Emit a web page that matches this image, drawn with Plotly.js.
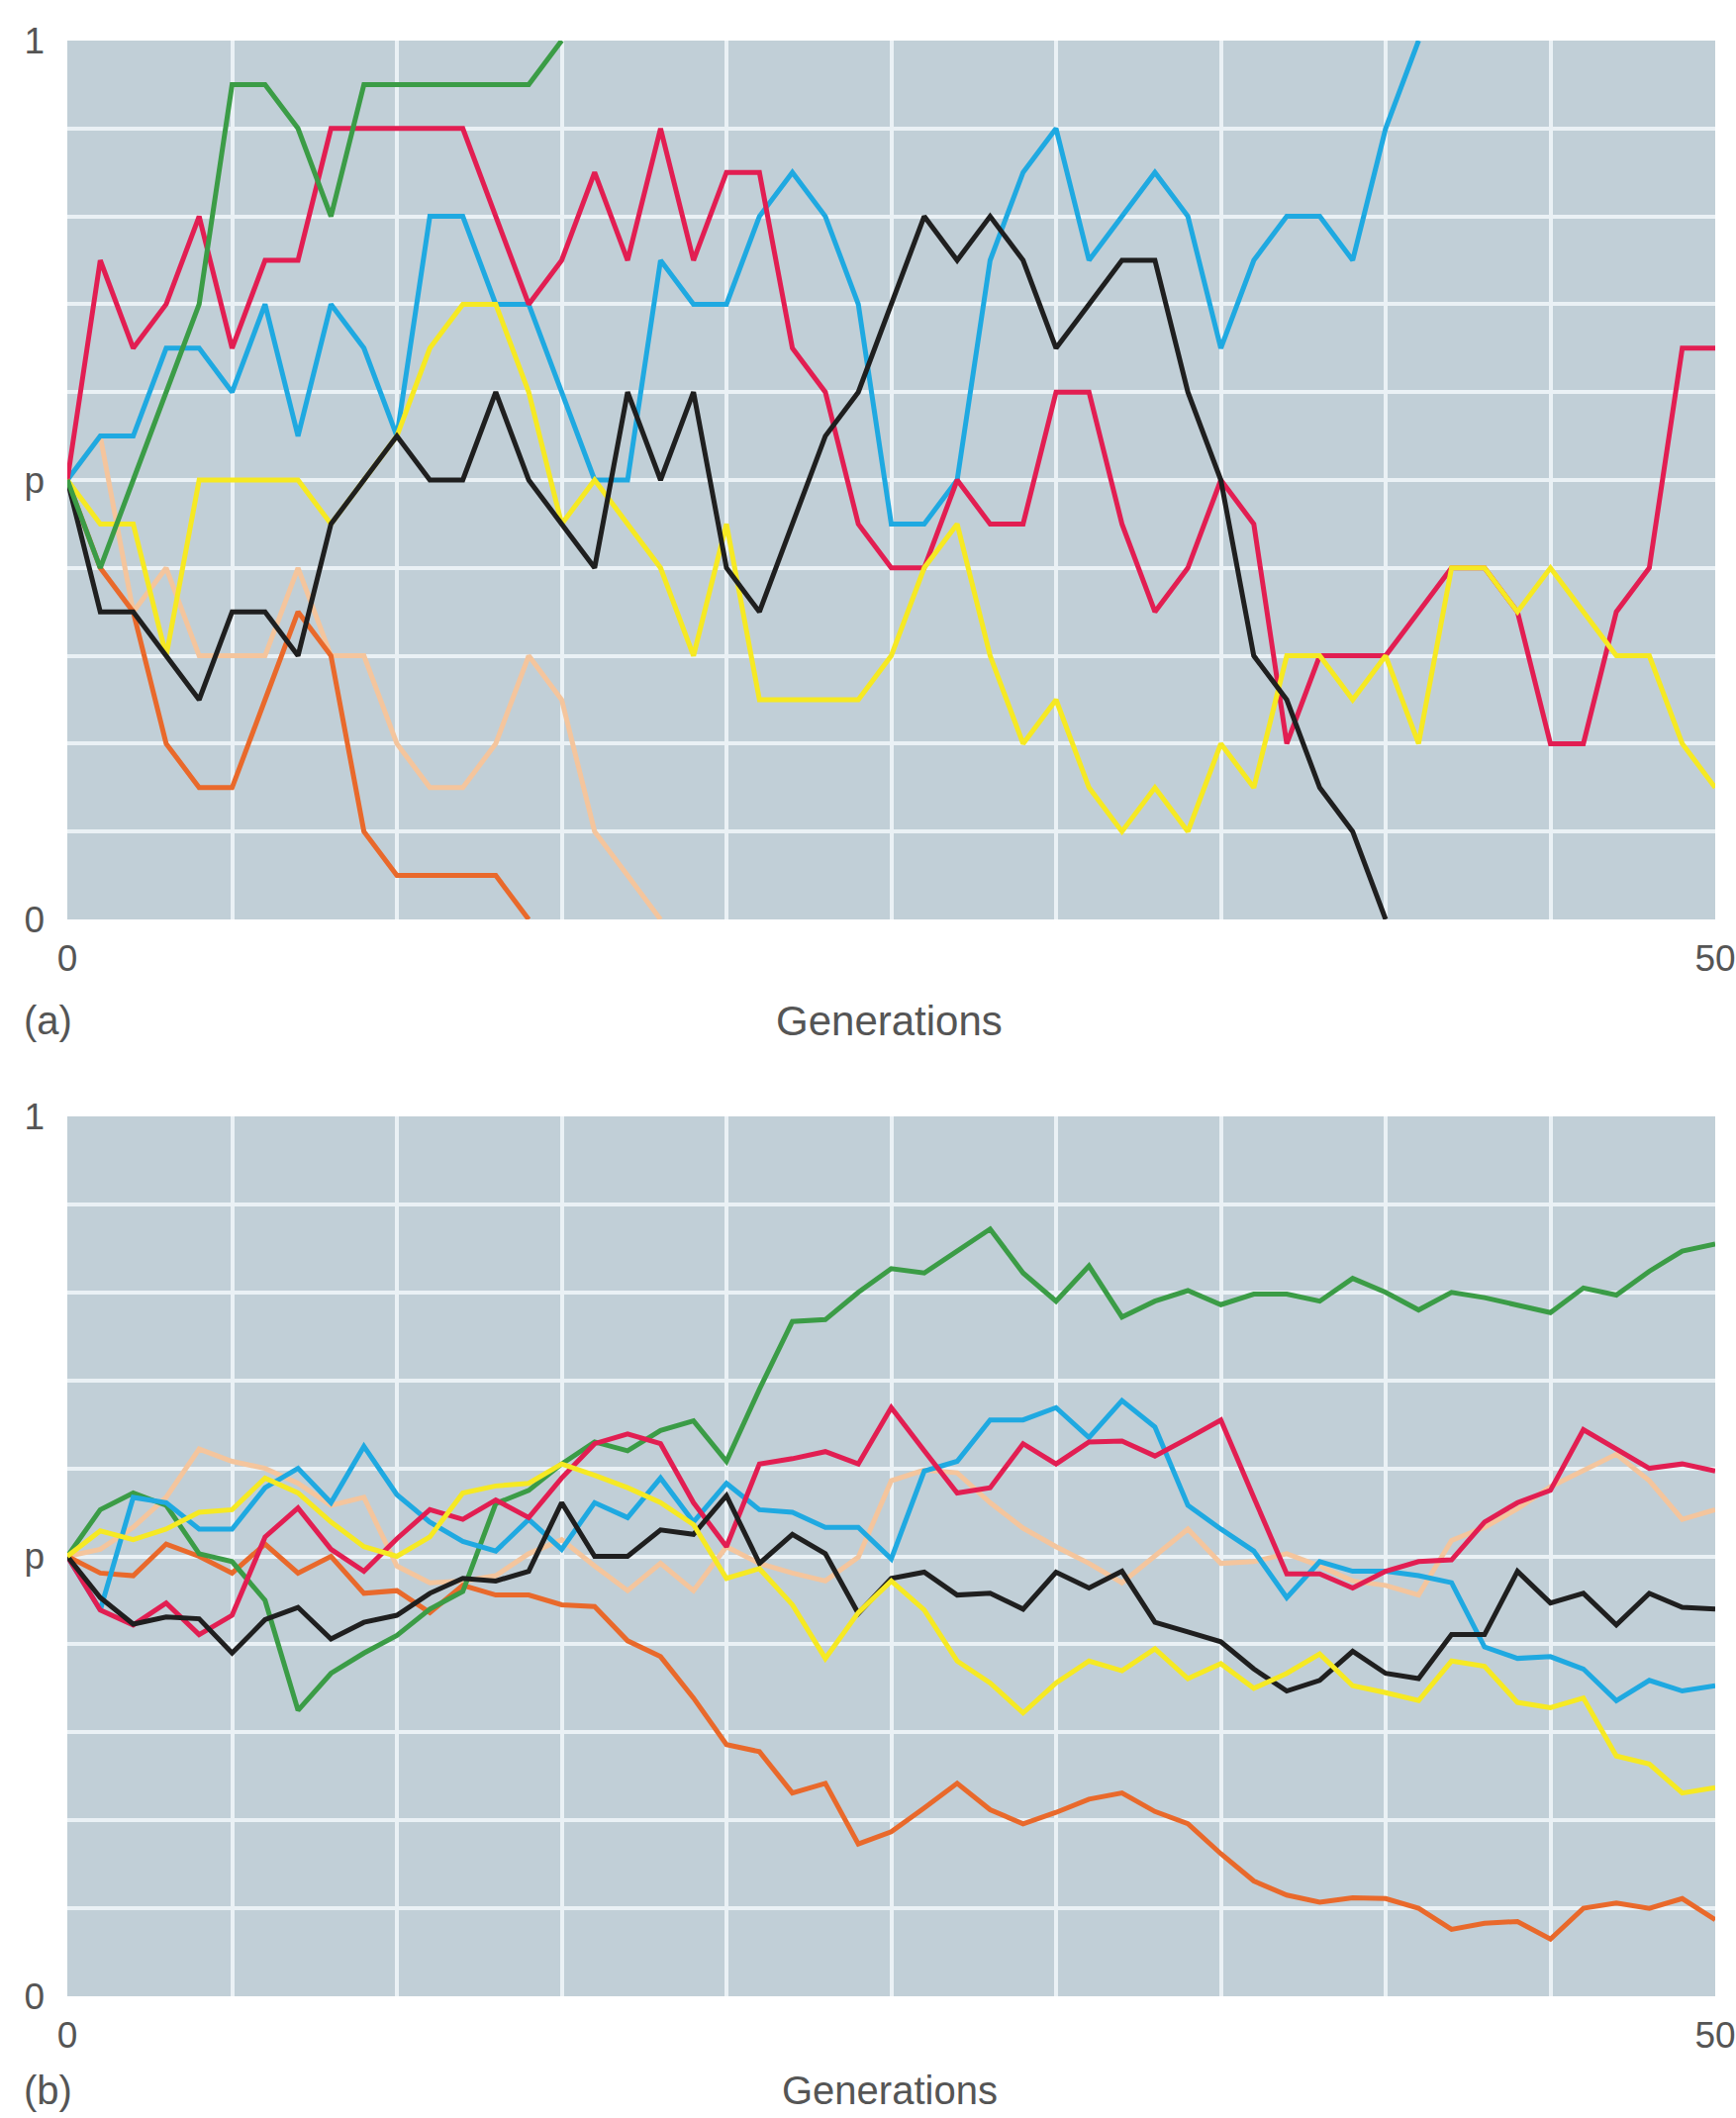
<!DOCTYPE html>
<html><head><meta charset="utf-8">
<script src="https://cdn.plot.ly/plotly-3.0.1.min.js"></script>
<style>html,body{margin:0;padding:0;background:#fff}#chart{width:1754px;height:2140px}</style>
</head><body><div id="chart"></div>
<script>
// Generations (x categories)
const generations = [0,1,2,3,4,5,6,7,8,9,10,11,12,13,14,15,16,17,18,19,20,21,22,23,24,25,26,27,28,29,30,31,32,33,34,35,36,37,38,39,40,41,42,43,44,45,46,47,48,49,50];

// Panel (a): small population
const aGreen  = [0.5,0.4,0.5,0.6,0.7,0.95,0.95,0.9,0.8,0.95,0.95,0.95,0.95,0.95,0.95,1.0];
const aRed    = [0.5,0.75,0.65,0.7,0.8,0.65,0.75,0.75,0.9,0.9,0.9,0.9,0.9,0.8,0.7,0.75,0.85,0.75,0.9,0.75,0.85,0.85,0.65,0.6,0.45,0.4,0.4,0.5,0.45,0.45,0.6,0.6,0.45,0.35,0.4,0.5,0.45,0.2,0.3,0.3,0.3,0.35,0.4,0.4,0.35,0.2,0.2,0.35,0.4,0.65,0.65];
const aBlue   = [0.5,0.55,0.55,0.65,0.65,0.6,0.7,0.55,0.7,0.65,0.55,0.8,0.8,0.7,0.7,0.6,0.5,0.5,0.75,0.7,0.7,0.8,0.85,0.8,0.7,0.45,0.45,0.5,0.75,0.85,0.9,0.75,0.8,0.85,0.8,0.65,0.75,0.8,0.8,0.75,0.9,1.0];
const aBlack  = [0.5,0.35,0.35,0.3,0.25,0.35,0.35,0.3,0.45,0.5,0.55,0.5,0.5,0.6,0.5,0.45,0.4,0.6,0.5,0.6,0.4,0.35,0.45,0.55,0.6,0.7,0.8,0.75,0.8,0.75,0.65,0.7,0.75,0.75,0.6,0.5,0.3,0.25,0.15,0.1,0.0];
const aYellow = [0.5,0.45,0.45,0.3,0.5,0.5,0.5,0.5,0.45,0.5,0.55,0.65,0.7,0.7,0.6,0.45,0.5,0.45,0.4,0.3,0.45,0.25,0.25,0.25,0.25,0.3,0.4,0.45,0.3,0.2,0.25,0.15,0.1,0.15,0.1,0.2,0.15,0.3,0.3,0.25,0.3,0.2,0.4,0.4,0.35,0.4,0.35,0.3,0.3,0.2,0.15];
const aOrange = [0.5,0.4,0.35,0.2,0.15,0.15,0.25,0.35,0.3,0.1,0.05,0.05,0.05,0.05,0.0];
const aPeach  = [0.5,0.55,0.35,0.4,0.3,0.3,0.3,0.4,0.3,0.3,0.2,0.15,0.15,0.2,0.3,0.25,0.1,0.05,0.0];

// Panel (b): large population
const bGreen  = [0.5,0.553,0.572,0.558,0.503,0.494,0.45,0.325,0.367,0.39,0.41,0.44,0.46,0.56,0.575,0.605,0.63,0.62,0.643,0.654,0.608,0.69,0.767,0.769,0.8,0.827,0.822,0.847,0.872,0.822,0.79,0.83,0.772,0.79,0.802,0.786,0.798,0.798,0.79,0.816,0.8,0.78,0.8,0.794,0.786,0.777,0.805,0.797,0.824,0.847,0.855];
const bRed    = [0.5,0.439,0.422,0.447,0.411,0.433,0.522,0.555,0.508,0.483,0.52,0.553,0.542,0.564,0.544,0.589,0.628,0.639,0.628,0.561,0.511,0.605,0.611,0.619,0.605,0.669,0.62,0.572,0.578,0.628,0.605,0.63,0.631,0.614,0.634,0.655,0.567,0.48,0.48,0.464,0.483,0.494,0.496,0.539,0.561,0.575,0.644,0.622,0.6,0.605,0.597];
const bBlue   = [0.5,0.439,0.567,0.561,0.531,0.531,0.578,0.6,0.561,0.625,0.57,0.539,0.517,0.506,0.542,0.508,0.561,0.544,0.589,0.539,0.583,0.553,0.55,0.533,0.533,0.497,0.597,0.608,0.655,0.655,0.669,0.635,0.677,0.647,0.558,0.531,0.506,0.453,0.494,0.483,0.483,0.478,0.47,0.397,0.384,0.386,0.372,0.336,0.359,0.347,0.353];
const bBlack  = [0.5,0.453,0.423,0.431,0.429,0.39,0.428,0.442,0.406,0.425,0.433,0.458,0.475,0.472,0.483,0.561,0.5,0.5,0.53,0.525,0.569,0.492,0.525,0.503,0.435,0.475,0.482,0.456,0.458,0.44,0.482,0.464,0.483,0.425,0.414,0.403,0.372,0.347,0.359,0.392,0.367,0.361,0.411,0.411,0.483,0.447,0.458,0.422,0.458,0.442,0.44];
const bYellow = [0.5,0.529,0.519,0.531,0.55,0.553,0.589,0.572,0.539,0.511,0.5,0.522,0.572,0.58,0.583,0.605,0.592,0.578,0.561,0.536,0.475,0.486,0.445,0.384,0.436,0.472,0.439,0.381,0.356,0.322,0.356,0.381,0.37,0.395,0.361,0.378,0.35,0.367,0.389,0.353,0.345,0.336,0.381,0.375,0.334,0.328,0.339,0.273,0.264,0.231,0.237];
const bOrange = [0.5,0.481,0.478,0.514,0.5,0.481,0.514,0.481,0.5,0.458,0.461,0.436,0.467,0.456,0.456,0.445,0.443,0.404,0.386,0.339,0.286,0.278,0.231,0.242,0.173,0.187,0.214,0.242,0.212,0.196,0.209,0.224,0.231,0.21,0.196,0.162,0.131,0.115,0.107,0.112,0.111,0.1,0.076,0.083,0.085,0.065,0.1,0.106,0.1,0.111,0.087];
const bPeach  = [0.5,0.508,0.533,0.567,0.622,0.608,0.6,0.583,0.558,0.567,0.489,0.47,0.472,0.478,0.503,0.519,0.489,0.461,0.492,0.461,0.511,0.492,0.481,0.472,0.499,0.586,0.598,0.595,0.561,0.532,0.511,0.492,0.47,0.5,0.531,0.492,0.494,0.503,0.489,0.472,0.467,0.456,0.518,0.533,0.554,0.579,0.597,0.616,0.586,0.542,0.553];

// Axis ticks
const xTickVals = [0,5,10,15,20,25,30,35,40,45,50];
const xTickText = ['0','','','','','','','','','','50'];
const yTickVals = [0,0.1,0.2,0.3,0.4,0.5,0.6,0.7,0.8,0.9,1];
const yTickText = ['0','','','','','p','','','','','1'];

const COL = {
  red:'#e21e52', green:'#3b9c46', blue:'#1fa9e1', black:'#1f1f1f',
  yellow:'#f6e923', orange:'#e9692b', peach:'#f4c59d'
};
const BG = '#c1cfd7', GRID = '#eaf1f5', TXT = '#555555';
const FONT = 'Liberation Sans, Arial, Helvetica, sans-serif';

function tr(vals, color, xa, ya){
  return {x: generations.slice(0, vals.length), y: vals, type:'scatter', mode:'lines',
          line:{color:color, width:5}, xaxis:xa, yaxis:ya, hoverinfo:'skip'};
}

const data = [
  tr(aPeach, COL.peach, 'x', 'y'),
  tr(aOrange, COL.orange, 'x', 'y'),
  tr(aBlue, COL.blue, 'x', 'y'),
  tr(aRed, COL.red, 'x', 'y'),
  tr(aYellow, COL.yellow, 'x', 'y'),
  tr(aBlack, COL.black, 'x', 'y'),
  tr(aGreen, COL.green, 'x', 'y'),
  tr(bPeach, COL.peach, 'x2', 'y2'),
  tr(bOrange, COL.orange, 'x2', 'y2'),
  tr(bGreen, COL.green, 'x2', 'y2'),
  tr(bBlue, COL.blue, 'x2', 'y2'),
  tr(bRed, COL.red, 'x2', 'y2'),
  tr(bBlack, COL.black, 'x2', 'y2'),
  tr(bYellow, COL.yellow, 'x2', 'y2')
];

const W = 1754, H = 2140;
const xDom = [68/W, 1733/W];
function xAxis(anchor){
  return {domain:xDom, range:[0,50], anchor:anchor, tickmode:'array', tickvals:xTickVals, ticktext:xTickText,
    showgrid:true, gridcolor:GRID, gridwidth:4, zeroline:false, showline:false, ticks:'',
    tickfont:{family:FONT, size:37, color:TXT}, ticklabelstandoff:14, fixedrange:true};
}
function yAxis(anchor, top, bottom){
  return {domain:[1-bottom/H, 1-top/H], range:[0,1], anchor:anchor, tickmode:'array', tickvals:yTickVals, ticktext:yTickText,
    showgrid:true, gridcolor:GRID, gridwidth:4, zeroline:false, showline:false, ticks:'',
    tickfont:{family:FONT, size:37, color:TXT}, ticklabelstandoff:22, fixedrange:true};
}

const layout = {
  width:W, height:H, margin:{l:0,r:0,t:0,b:0}, paper_bgcolor:'#ffffff', plot_bgcolor:BG,
  showlegend:false,
  xaxis: xAxis('y'), yaxis: yAxis('x', 41, 929),
  xaxis2: xAxis('y2'), yaxis2: yAxis('x2', 1128, 2017),
  annotations:[
    {text:'(a)', xref:'paper', yref:'paper', x:48/W, y:1-1031/H, xanchor:'center', yanchor:'middle', showarrow:false, font:{family:FONT, size:40, color:TXT}},
    {text:'Generations', xref:'paper', yref:'paper', x:899/W, y:1-1031/H, xanchor:'center', yanchor:'middle', showarrow:false, font:{family:FONT, size:42, color:TXT}},
    {text:'(b)', xref:'paper', yref:'paper', x:48/W, y:1-2112/H, xanchor:'center', yanchor:'middle', showarrow:false, font:{family:FONT, size:40, color:TXT}},
    {text:'Generations', xref:'paper', yref:'paper', x:899/W, y:1-2112/H, xanchor:'center', yanchor:'middle', showarrow:false, font:{family:FONT, size:40, color:TXT}}
  ]
};

Plotly.newPlot('chart', data, layout, {staticPlot:true, displayModeBar:false});
</script>
</body></html>
